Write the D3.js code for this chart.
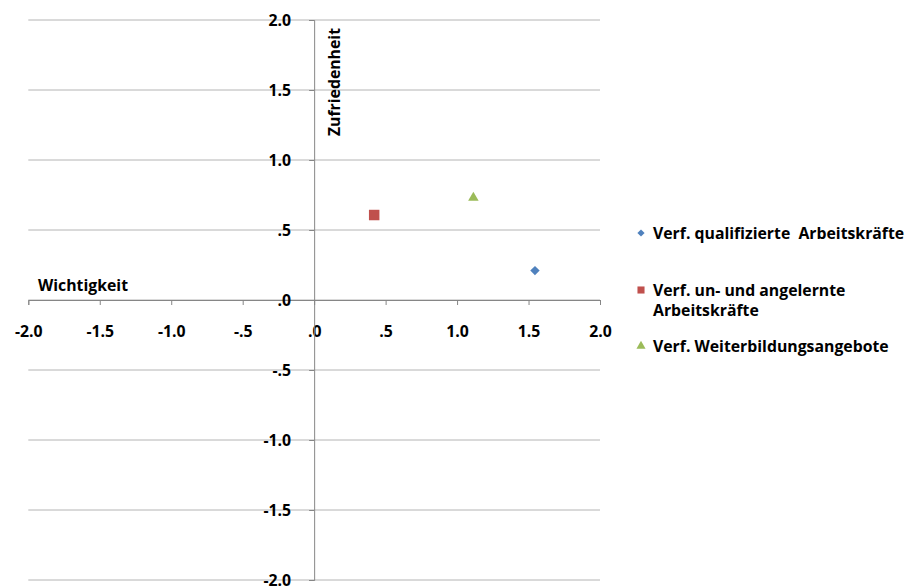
<!DOCTYPE html>
<html><head><meta charset="utf-8">
<script src="https://cdn.jsdelivr.net/npm/d3@7"></script>
<style>body{margin:0;background:#fff}text{font-family:"Open Sans",sans-serif;font-weight:bold;fill:#000}</style>
</head><body><svg id="c" width="912" height="586"></svg>
<script>
const seriesNames = [["Verf. qualifizierte  Arbeitskräfte"],["Verf. un- und angelernte","Arbeitskräfte"],["Verf. Weiterbildungsangebote"]];
const xValues = [1.545, 0.42, 1.114];
const yValues = [0.21, 0.607, 0.73];
const symbols = ["diamond","square","triangle"];
const colors = ["#4F81BD","#C0504D","#9BBB59"];
const tickValues = [-2,-1.5,-1,-0.5,0,0.5,1,1.5,2];
const fmt = v => { const s = Math.abs(v).toFixed(1).replace(/^0/,""); return (v<0?"-":"")+s; };
const FONT = "'Open Sans',sans-serif";
const FS = 15.8;

const svg = d3.select("#c");
const x = d3.scaleLinear().domain([-2,2]).range([28.3,600]);
const y = d3.scaleLinear().domain([-2,2]).range([580,20]);

svg.append("g").selectAll("line").data(tickValues).join("line")
  .attr("x1",x(-2)).attr("x2",x(2)).attr("y1",d=>y(d)).attr("y2",d=>y(d))
  .attr("stroke","#b4b4b4").attr("stroke-width",1);

const xa = svg.append("g").attr("transform",`translate(0,${y(0)})`)
  .call(d3.axisBottom(x).tickValues(tickValues).tickFormat(fmt).tickSize(5).tickPadding(21));
xa.select(".domain").attr("stroke","#868686");
xa.selectAll(".tick line").attr("stroke","#868686");
xa.selectAll("text").attr("font-size",FS).style("font-family",FONT).style("font-weight","bold").attr("fill","#000");

const ya = svg.append("g").attr("transform",`translate(${x(0)},0)`)
  .call(d3.axisLeft(y).tickValues(tickValues).tickFormat(fmt).tickSize(5).tickPadding(18));
ya.select(".domain").attr("stroke","#868686");
ya.selectAll(".tick line").attr("stroke","#868686");
ya.selectAll("text").attr("font-size",FS).style("font-family",FONT).style("font-weight","bold").attr("fill","#000");

svg.append("text").attr("x",38).attr("y",291).attr("font-size",FS).text("Wichtigkeit");
svg.append("text").attr("transform",`translate(340,28) rotate(-90)`).attr("text-anchor","end").attr("font-size",FS).text("Zufriedenheit");

const sym = {diamond:d3.symbolSquare, square:d3.symbolSquare, triangle:d3.symbolTriangle};
const rot = {diamond:45, square:0, triangle:0};
const sizes = {diamond:44, square:110, triangle:48};
svg.append("g").selectAll("path").data(xValues).join("path")
  .attr("transform",(d,i)=>`translate(${x(d)},${y(yValues[i])}) rotate(${rot[symbols[i]]})`)
  .attr("d",(d,i)=>d3.symbol(sym[symbols[i]], sizes[symbols[i]])())
  .attr("fill",(d,i)=>colors[i]);

const ly = [233, 290, 346];
const lsz = {diamond:26, square:50, triangle:36};
const lg = svg.append("g");
seriesNames.forEach((lines,i)=>{
  lg.append("path").attr("transform",`translate(641,${ly[i]}) rotate(${rot[symbols[i]]})`)
    .attr("d",d3.symbol(sym[symbols[i]], lsz[symbols[i]])()).attr("fill",colors[i]);
  lines.forEach((t,j)=>{
    lg.append("text").attr("x",653).attr("y",ly[i]+5.5+j*20).attr("font-size",FS).attr("xml:space","preserve").text(t);
  });
});
</script></body></html>
